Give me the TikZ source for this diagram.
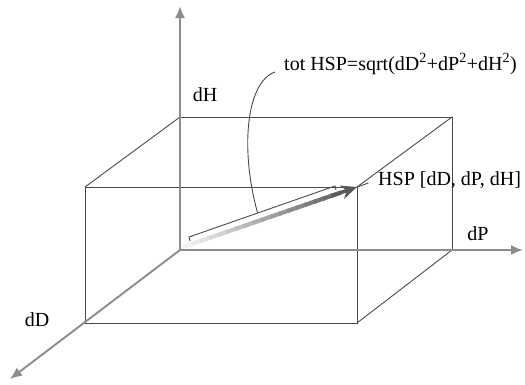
\documentclass[tikz,border=0pt]{standalone}
\usepackage{fontspec}
\setmainfont{Liberation Serif}
\usetikzlibrary{calc,
                arrows.meta}
\definecolor{axisgray}{HTML}{8C8C8C}
\definecolor{edgegray}{HTML}{4A4A4A}

\begin{document}
\begin{tikzpicture}[x=1pt,y=1pt]

\tikzset{
axisline/.style={
draw=axisgray,
line width=1.9pt,
-{Latex[length=12pt,width=10pt]}
},
edgeline/.style={
draw=edgegray,
line width=0.9pt
},
plotlabel/.style={
font=\fontsize{20}{23}\selectfont,
inner sep=1pt
}
}

\useasboundingbox (-180,-134) rectangle (345,250);

%--------------------------------------------------
% CORNERS
%--------------------------------------------------

\coordinate (O) at (0,0);
\coordinate (btl) at (0,133);
\coordinate (btr) at (272,133);
\coordinate (bbr) at (272,0);
\coordinate (ftl) at (-95,63);
\coordinate (ftr) at (177,63);
\coordinate (fbr) at (177,-73);
\coordinate (fbl) at (-95,-73);

\coordinate (Htip) at (0,244);
\coordinate (Ptip) at (343,0);
\coordinate (Dtip) at (-170,-129);

%--------------------------------------------------
% BOX
%--------------------------------------------------

\draw[edgeline] (btl) -- (btr) -- (bbr);
\draw[edgeline] (btl) -- (ftl);
\draw[edgeline] (btr) -- (ftr);
\draw[edgeline] (bbr) -- (fbr);
\draw[edgeline] (ftl) -- (ftr) -- (fbr) -- (fbl) -- cycle;

%--------------------------------------------------
% AXES
%--------------------------------------------------

\draw[axisline] (O) -- (Htip);
\draw[axisline] (O) -- (Ptip);
\draw[axisline] (O) -- (Dtip);

\node[plotlabel] (dHlbl) at (25,155) {dH};
\node[plotlabel] (dPlbl) at (298,16) {dP};
\node[plotlabel] (dDlbl) at (-143,-70) {dD};

%--------------------------------------------------
% HSP VECTOR
%--------------------------------------------------

\coordinate (vs) at (3,3);
\foreach \i in {0,...,17}{
\pgfmathsetmacro{\shadeval}{5+3.3*\i}
\draw[line width=4.2pt,color=black!\shadeval]
($(vs)!\i/20!(ftr)$) -- ($(vs)!\i/20+0.06!(ftr)$);
}
\draw[line width=3.5pt,color=black!65,-{Stealth[length=16pt,width=14pt]}]
($(vs)!0.86!(ftr)$) -- (ftr);

\node[plotlabel,anchor=west] (hsplbl) at (197,70) {HSP [dD, dP, dH]};
\draw[edgeline,shorten >=9pt] (ftr) -- (hsplbl.west);

%--------------------------------------------------
% TOTAL LENGTH
%--------------------------------------------------

\coordinate (br1) at (9,13);
\coordinate (br2) at (155,64);
\draw[edgeline] ($(br1)+(1,-4)$) -- (br1) -- (br2) -- ($(br2)+(1,-4)$);
\coordinate (bm) at ($(br1)!0.47!(br2)$);

\node[plotlabel,anchor=west] (totlbl) at (103,186)
{tot HSP=sqrt(dD\textsuperscript{2}+dP\textsuperscript{2}+dH\textsuperscript{2})};
\coordinate (cstart) at (95,178);
\draw[edgeline] (cstart) .. controls (66,168) and (60,100) .. (bm);

\end{tikzpicture}
\end{document}
